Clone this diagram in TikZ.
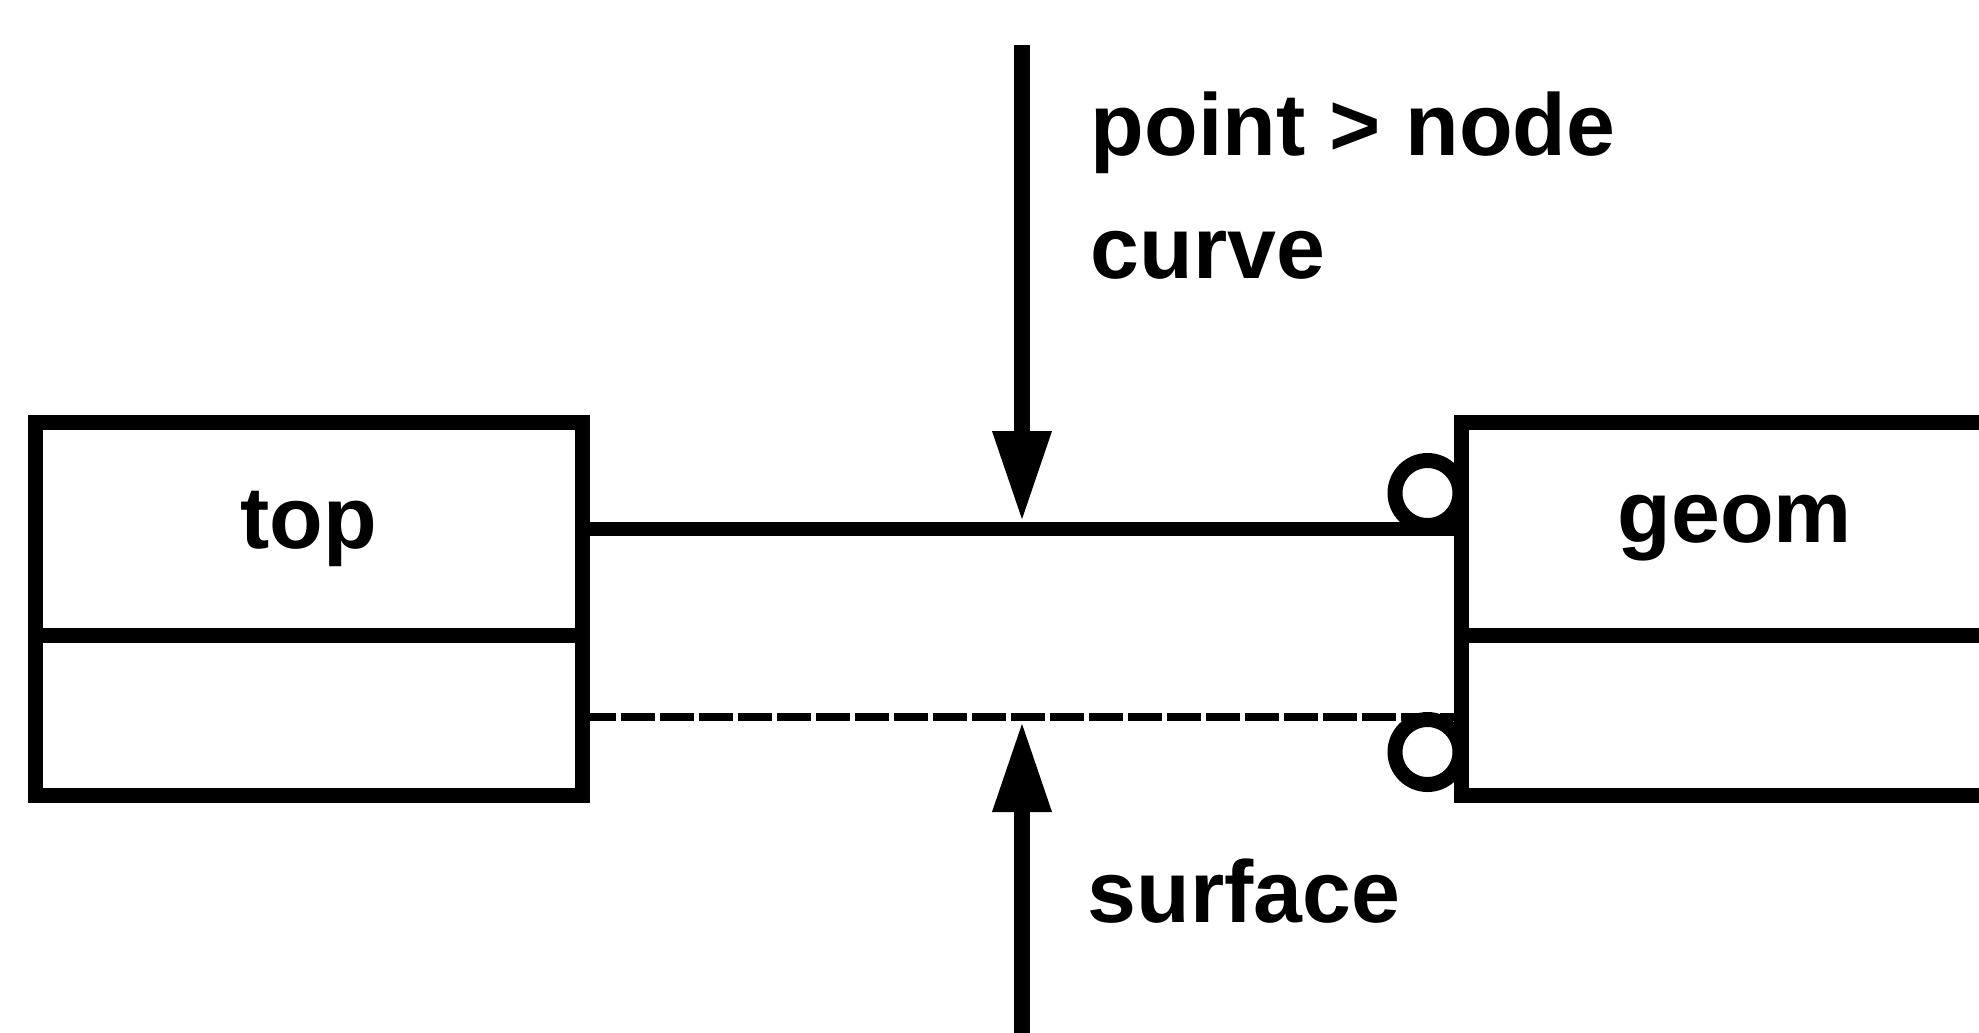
\documentclass[tikz,border=0pt]{standalone}
\usepackage{fontspec}
\setmainfont{Liberation Sans}
\usetikzlibrary{arrows.meta}
\tikzset{
  compart/.style={draw, line width=1.5mm, inner sep=0pt, outer sep=0pt, minimum width=5.467cm, anchor=north west, font=\bfseries\fontsize{25}{30}\selectfont},
  ring/.style={draw, circle, line width=1.5mm, inner sep=0pt, minimum size=6.5mm},
  pin/.style={line width=1.6mm, -{Triangle[length=9.1mm,width=5.5mm]}},
  tag/.style={anchor=base west, inner sep=0pt, font=\bfseries\fontsize{25}{30}\selectfont},
}
\begin{document}
\begin{tikzpicture}
    \useasboundingbox (0,0) rectangle (19.79,-10.32);
    \clip (0,0) rectangle (19.79,-10.32);
    % classes
    \node[compart, minimum height=2.13cm] (topname) at (0.353,-4.22) {top};
    \node[compart, minimum height=1.60cm] (topbody) at (topname.south west) {};
    \node[compart, minimum height=2.13cm] (geomname) at (14.615,-4.22) {geom};
    \node[compart, minimum height=1.60cm] (geombody) at (geomname.south west) {};
    % links
    \draw[line width=1.4mm] (topname.east) -- (geomname.west);
    \draw[line width=0.8mm, dash pattern=on 3.4mm off 0.5mm] ([yshift=-0.2mm]topbody.east) -- ([yshift=-0.2mm]geombody.west);
    \node[ring] (curvering) at ([xshift=-3.4mm,yshift=3.55mm]geomname.west) {};
    \node[ring] (surfring) at ([xshift=-3.4mm,yshift=-3.7mm]geombody.west) {};
    % arrows
    \coordinate (curvefrom) at (10.22,-0.45);
    \coordinate (curveto) at (10.22,-5.22);
    \draw[pin] (curvefrom) -- (curveto);
    \coordinate (surffrom) at (10.22,-10.5);
    \coordinate (surfto) at (10.22,-7.21);
    \draw[pin] (surffrom) -- (surfto);
    % labels
    \node[tag] (pointlbl) at (10.9,-1.55) {point > node};
    \node[tag] (curvelbl) at (10.9,-2.78) {curve};
    \node[tag] (surflbl) at (10.87,-9.22) {surface};
\end{tikzpicture}
\end{document}
